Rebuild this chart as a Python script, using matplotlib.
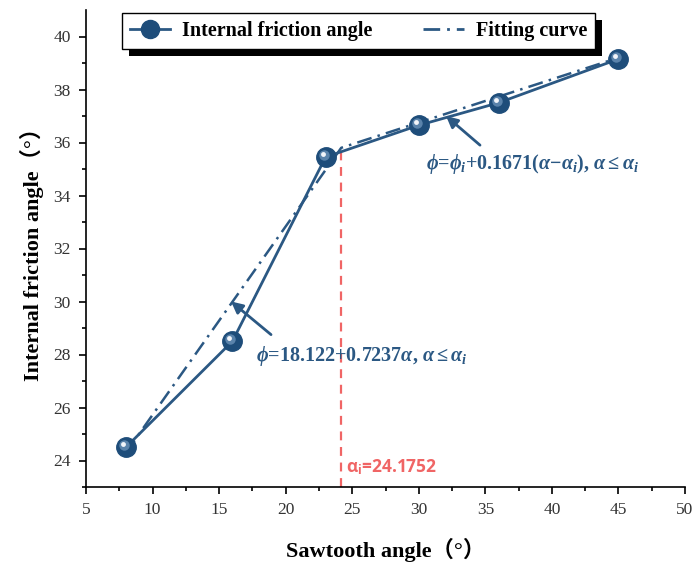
import numpy as np
import matplotlib
matplotlib.use("Agg")
import matplotlib.pyplot as plt
import matplotlib.transforms as mtransforms
from matplotlib.lines import Line2D
from matplotlib.patches import Rectangle

# data
saw_angle = [8, 16, 23, 30, 36, 45]
friction_angle = [24.5, 28.5, 35.45, 36.65, 37.5, 39.15]

alpha_i = 24.1752
fit_x = [8, alpha_i, 45]
fit_y = [24.3, 35.8, 39.2]

eq1 = r"$\phi$=18.122+0.7237$\alpha$, $\alpha$$\leq$$\alpha_i$"
eq2 = r"$\phi$=$\phi_i$+0.1671($\alpha$$-$$\alpha_i$), $\alpha$$\leq$$\alpha_i$"

blue = "#2b5883"
red = "#f06565"

plt.rcParams["mathtext.fontset"] = "custom"
plt.rcParams["mathtext.rm"] = "Liberation Serif:bold"
plt.rcParams["mathtext.it"] = "Liberation Serif:bold:italic"
plt.rcParams["mathtext.bf"] = "Liberation Serif:bold"

fig = plt.figure(figsize=(6.96, 5.62), dpi=100)
ax = fig.add_axes([86/696, 75/562, 599/696, 477/562])

# fitting curve + vertical line
ax.plot(fit_x, fit_y, color=blue, lw=1.8, linestyle=(0, (6, 2.5, 1, 2.5)), zorder=2)
ax.vlines(alpha_i, 23, fit_y[1], colors=red, linestyles=(0, (4, 3)), lw=1.6, zorder=1)

# data line with shaded "ball" markers
ax.plot(saw_angle, friction_angle, color=blue, lw=2.0, zorder=3)
ax.plot(saw_angle, friction_angle, "o", ms=14, color="#1e4d7a", mec="#1e4d7a", zorder=4)
off1 = mtransforms.ScaledTranslation(-2/100, 2/100, fig.dpi_scale_trans)
off2 = mtransforms.ScaledTranslation(-3/100, 3/100, fig.dpi_scale_trans)
ax.plot(saw_angle, friction_angle, "o", ms=7.5, color="#5a83ab", mew=0,
        transform=ax.transData + off1, zorder=5)
ax.plot(saw_angle, friction_angle, "o", ms=3.5, color="#f2f5fa", mew=0,
        transform=ax.transData + off2, zorder=6)

# annotations
ax.annotate("", xy=(15.9, 30.0), xytext=(18.9, 28.75),
            arrowprops=dict(arrowstyle="-|>", color=blue, lw=2.0,
                            mutation_scale=17, shrinkA=0, shrinkB=0))
ax.annotate("", xy=(32.05, 37.0), xytext=(34.6, 35.9),
            arrowprops=dict(arrowstyle="-|>", color=blue, lw=2.0,
                            mutation_scale=17, shrinkA=0, shrinkB=0))
ax.text(17.8, 27.95, eq1, color=blue, fontsize=14.5, va="center", ha="left",
        family="Liberation Serif", weight="bold")
ax.text(30.55, 35.2, eq2, color=blue, fontsize=14.5, va="center", ha="left",
        family="Liberation Serif", weight="bold")
ax.text(24.55, 23.75, r"α$_\mathregular{i}$=24.1752", color=red, fontsize=12.5,
        va="center", ha="left", family=["Open Sans", "DejaVu Sans"], weight="bold")

ax.set_xlim(5, 50)
ax.set_ylim(23, 41)
ax.set_xticks(np.arange(5, 51, 5))
ax.set_xticks(np.arange(7.5, 50, 5), minor=True)
ax.set_yticks(np.arange(24, 41, 2))
ax.set_yticks(np.arange(23, 41, 1), minor=True)
ax.tick_params(which="major", direction="out", length=5, width=1.2, labelsize=12.5,
               labelcolor="#333333", pad=6)
ax.tick_params(which="minor", direction="out", length=3, width=1.2)
for lab in ax.get_xticklabels() + ax.get_yticklabels():
    lab.set_family("Liberation Serif")
for s in ["top", "right"]:
    ax.spines[s].set_visible(False)
for s in ["left", "bottom"]:
    ax.spines[s].set_linewidth(1.2)

lab_fonts = ["Liberation Serif", "Noto Sans CJK SC"]
ax.set_xlabel("Sawtooth angle（°）", fontsize=16, weight="bold", family=lab_fonts,
              labelpad=14)
ax.set_ylabel("Internal friction angle（°）", fontsize=16, weight="bold", family=lab_fonts,
              labelpad=7)

handles = [
    Line2D([], [], color=blue, lw=2.0, marker="o", ms=13, mfc="#1e4d7a", mec="#1e4d7a"),
    Line2D([], [], color=blue, lw=2.0, linestyle=(0, (6, 2.5, 1, 2.5))),
]
leg = ax.legend(handles, ["Internal friction angle", "Fitting curve"], ncol=2,
                loc="upper left", bbox_to_anchor=(0.06, 0.5, 0.79, 0.494),
                mode="expand", borderaxespad=0, fancybox=False, framealpha=1,
                edgecolor="black", handlelength=2.0, columnspacing=2.0,
                borderpad=0.4, handletextpad=0.6,
                prop={"family": "Liberation Serif", "weight": "bold", "size": 14.5})
leg.get_frame().set_linewidth(1.0)
leg.set_zorder(10)

# black drop shadow behind legend
fig.canvas.draw()
bb = leg.get_window_extent()
shadow = Rectangle((bb.x0 + 7, bb.y0 - 7), bb.width, bb.height, transform=None,
                   facecolor="black", edgecolor="none", zorder=9)
ax.add_artist(shadow)

fig.savefig("out.png", dpi=100)
